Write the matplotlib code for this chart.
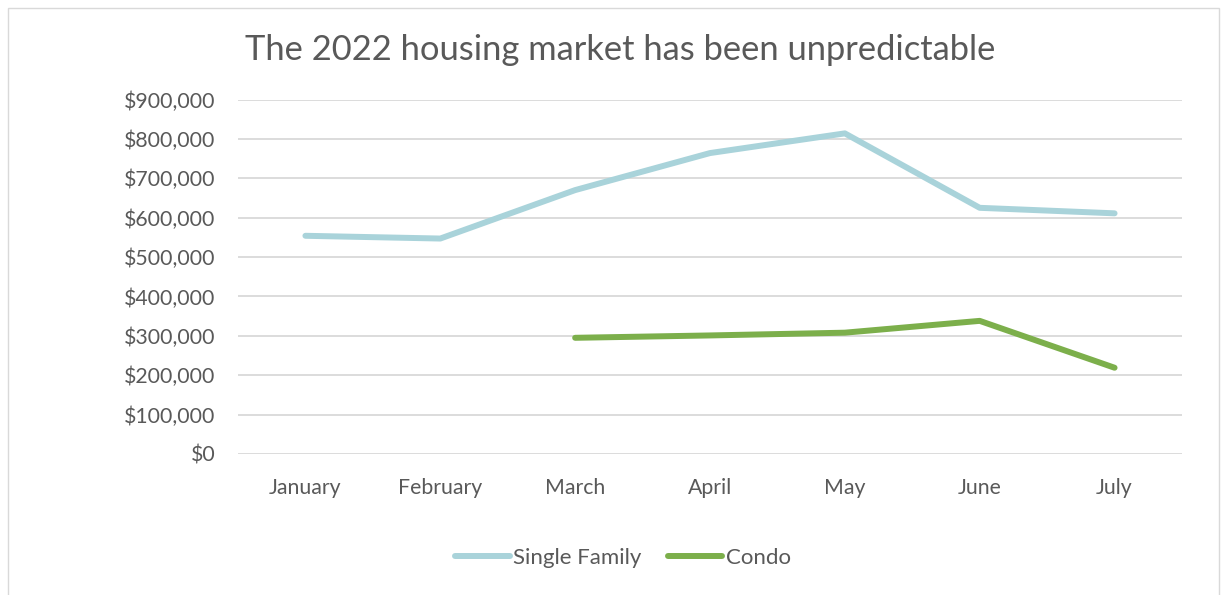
import matplotlib
matplotlib.use("Agg")
import matplotlib.pyplot as plt
import numpy as np
from matplotlib.ticker import FuncFormatter
from matplotlib.patches import Rectangle

months = ["January", "February", "March", "April", "May", "June", "July"]
single_family = [554000, 547000, 670000, 764000, 814000, 625000, 611000]
condo = [np.nan, np.nan, 295000, 301000, 308000, 338000, 219000]
yticks = [0, 100000, 200000, 300000, 400000, 500000, 600000, 700000, 800000, 900000]

plt.rcParams['font.family'] = ['Lato', 'DejaVu Sans']
txt = '#595959'

fig = plt.figure(figsize=(12.26, 5.95), dpi=100)
fig.patches.append(Rectangle((8/1226, -0.01), (1219-8)/1226, 1 - 8/595 + 0.01,
                             transform=fig.transFigure, fill=False,
                             edgecolor='#D9D9D9', linewidth=1.0))
ax = fig.add_axes([238/1226, 1 - 454/595, (1182-238)/1226, (454-99.5)/595])

x = np.arange(len(months))
ax.plot(x, single_family, color='#A9D3DA', linewidth=4.3, solid_capstyle='round',
        solid_joinstyle='round', label='Single Family')
ax.plot(x, condo, color='#7CAF4B', linewidth=4.3, solid_capstyle='round',
        solid_joinstyle='round', label='Condo')

ax.set_xlim(-0.5, len(months) - 0.5)
ax.set_ylim(0, 900000)
ax.set_yticks(yticks)
ax.yaxis.set_major_formatter(FuncFormatter(lambda v, p: f"${v:,.0f}"))
ax.set_xticks(x)
ax.set_xticklabels(months)
ax.grid(axis='y', color='#D9D9D9', linewidth=1.3)
ax.set_axisbelow(True)
for s in ax.spines.values():
    s.set_visible(False)
ax.tick_params(axis='both', length=0, labelsize=15.3, colors=txt, labelcolor=txt)
ax.tick_params(axis='y', pad=16)
ax.tick_params(axis='x', pad=17)

fig.text(620/1226, 1 - 50/595, "The 2022 housing market has been unpredictable",
         ha='center', va='center', fontsize=24.8, color=txt)

leg = fig.legend(loc='center', bbox_to_anchor=(623/1226, 1 - 558/595), ncol=2,
                 frameon=False, fontsize=16, handlelength=2.45, handletextpad=0.15,
                 columnspacing=1.2)
for t in leg.get_texts():
    t.set_color(txt)

fig.savefig("out.png", dpi=100)
